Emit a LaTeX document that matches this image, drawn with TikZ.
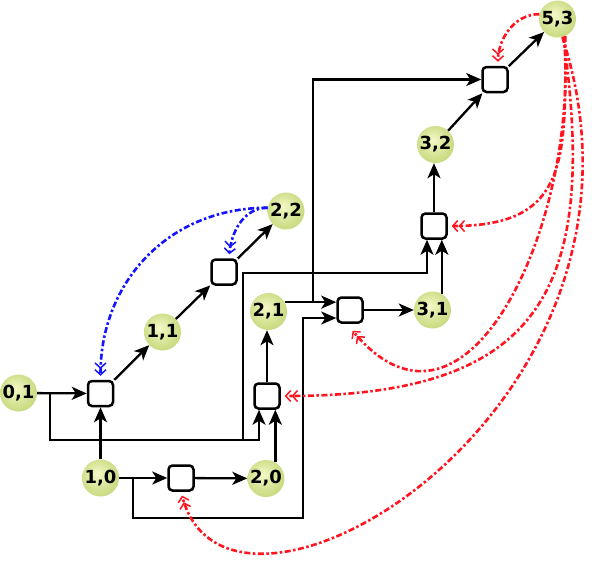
\documentclass[tikz,border=0pt]{standalone}
\usepackage{fontspec}
\setmainfont{DejaVu Sans}
\usepackage{tikz}
\usetikzlibrary{arrows.meta}
\usetikzlibrary{calc}

\definecolor{ballin}{RGB}{246,249,200}
\definecolor{ballout}{RGB}{166,196,76}
\definecolor{backred}{RGB}{255,20,32}
\definecolor{backblue}{RGB}{20,20,255}
\pgfdeclareradialshading{ballshade}{\pgfpoint{-5bp}{6bp}}{color(0bp)=(ballin); color(18bp)=(ballin!60!ballout); color(50bp)=(ballout)}

\begin{document}
\begin{tikzpicture}[x=1pt, y=-1pt,
    state/.style={circle, minimum size=37pt, inner sep=0pt, shading=ballshade, font=\bfseries\fontsize{18}{20}\selectfont},
    gate/.style={draw, rounded corners=4pt, minimum size=25pt, inner sep=0pt, line width=2.5pt, fill=white},
    flow/.style={line width=2.3pt, -{Stealth[length=15pt, width=13pt, inset=4pt]}},
    back/.style={line width=2.6pt, dash pattern=on 6pt off 2.5pt on 2.5pt off 2.5pt, shorten >=4pt,
        -{Straight Barb[length=5pt, width=11pt, line width=1.5pt] Straight Barb[length=5pt, width=11pt, line width=1.5pt]}},
    redback/.style={back, backred},
    blueback/.style={back, backblue}]

    \useasboundingbox (0,0) rectangle (595,566);

    \node[state] (n01) at (18.5,393) {0,1};
    \node[state] (n10) at (100.5,478) {1,0};
    \node[state] (n20) at (266,478.5) {2,0};
    \node[state] (n11) at (162.5,332) {1,1};
    \node[state] (n22) at (286,211) {2,2};
    \node[state] (n21) at (268.5,311.5) {2,1};
    \node[state] (n31) at (432.5,310) {3,1};
    \node[state] (n32) at (435.5,144.5) {3,2};
    \node[state] (n53) at (557.5,19) {5,3};

    \node[gate] (b1) at (100.5,393.5) {};
    \node[gate] (b2) at (181,478) {};
    \node[gate] (b3) at (267,396) {};
    \node[gate] (b4) at (224,272) {};
    \node[gate] (b5) at (350,310) {};
    \node[gate] (b6) at (434,226) {};
    \node[gate] (b7) at (495,79.5) {};

    \coordinate (t1) at (50,440);
    \coordinate (t2) at (243,440);
    \coordinate (t3) at (243,273);
    \coordinate (t4) at (133,518);
    \coordinate (t5) at (303,518);
    \coordinate (t6) at (313,0);

    \draw[flow] (n01) -- (b1);
    \draw[flow] (n01.east) -| (t1) -| ([xshift=-8pt]b3.south);
    \draw[flow] (t2) -- (t3) -| ([xshift=-7pt]b6.south);

    \draw[flow] (n10) -- (b1);
    \draw[flow] (n10) -- (b2);
    \draw[flow] (t4 |- n10) -- (t4) -- (t5) |- ([yshift=-8pt]b5.west);
    \draw[flow] (b2) -- (n20);
    \draw[flow] (n20.60) -- (n20.60 |- b3.south);

    \draw[flow] (b3.north) -- (b3.north |- n21.south);
    \draw[flow] (n21.30) -- (n21.30 -| b5.west);
    \draw[flow] (t6 |- n21.30) |- (b7);
    \draw[flow] (b5) -- (n31);
    \draw[flow] (n31.60) -- (n31.60 |- b6.south);
    \draw[flow] (b6.north) -- (b6.north |- n32.south);
    \draw[flow] (n32) -- (b7);
    \draw[flow] (b7) -- (n53);

    \draw[flow] (b1) -- (n11);
    \draw[flow] (n11) -- (b4);
    \draw[flow] (b4) -- (n22);

    \draw[blueback] (n22.170) to[out=180, in=90, looseness=1.05] (b1.north);
    \draw[blueback] (n22.170) to[out=180, in=85] ([xshift=5pt]b4.north);

    \draw[redback] (n53.165) to[out=180, in=90] ([xshift=3pt]b7.north);
    \draw[redback] (n53.-65) to[out=-90, in=0, looseness=1.4] (b6.east);
    \draw[redback] (n53.-70) to[out=-85, in=-50, looseness=1.3] ([yshift=-4pt]b5.south);
    \draw[redback] (n53.-72) to[out=-82, in=0, looseness=1.45] (b3.east);
    \draw[redback] (n53.-75) to[out=-72, in=-75, out distance=390pt, in distance=190pt] (b2.south);

\end{tikzpicture}
\end{document}
